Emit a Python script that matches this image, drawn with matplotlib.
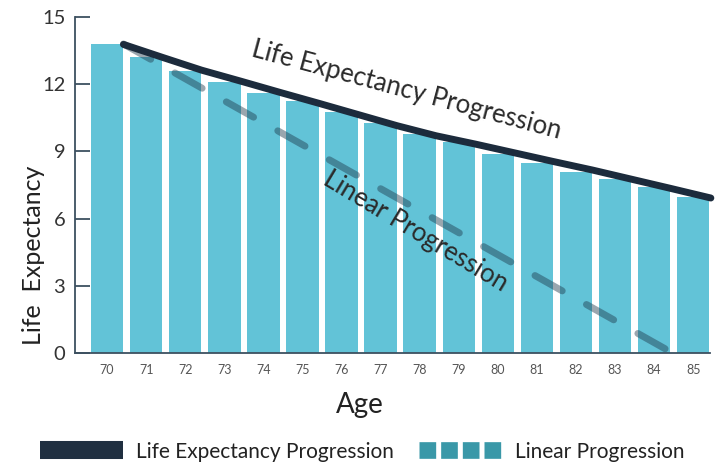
import matplotlib.pyplot as plt
from matplotlib.lines import Line2D

plt.rcParams['font.family'] = ['Lato', 'DejaVu Sans']

# data
ages = [70, 71, 72, 73, 74, 75, 76, 77, 78, 79, 80, 81, 82, 83, 84, 85]
life_exp = [13.8, 13.2, 12.6, 12.1, 11.6, 11.25, 10.75, 10.25, 9.8, 9.4,
            8.9, 8.5, 8.1, 7.75, 7.4, 6.95]
# smooth progression line, drawn at the right edge of each bar
prog_x = [70.42, 71.42, 72.42, 73.42, 74.42, 75.42, 76.42, 77.42, 78.42,
          79.42, 80.42, 81.42, 82.42, 83.42, 84.42, 85.45]
prog_y = [13.78, 13.2, 12.63, 12.14, 11.64, 11.15, 10.65, 10.15, 9.7, 9.33,
          8.94, 8.55, 8.17, 7.76, 7.35, 6.92]
# straight line from first value down to zero
lin_x = [70.42, 84.47]
lin_y = [13.8, 0]

bar_col = '#62c3d7'
navy = '#1c2b3c'
dash_col = '#1f3a4d'

fig = plt.figure(figsize=(7.17, 4.62), dpi=100)
ax = fig.add_axes([0.1046, 0.236, 0.895, 0.727])

ax.bar(ages, life_exp, width=0.83, color=bar_col, zorder=1)
ax.plot(prog_x, prog_y, color=navy, lw=5, solid_capstyle='round',
        solid_joinstyle='round', zorder=3)
ax.plot(lin_x, lin_y, color=dash_col, lw=5, alpha=0.45,
        dash_capstyle='round', dashes=(4.5, 4.0), zorder=2)

ax.text(77.66, 11.74, 'Life Expectancy Progression', rotation=-15,
        rotation_mode='anchor', ha='center', va='center', fontsize=18.5,
        color='#2a2a2a')
ax.text(77.89, 5.45, 'Linear Progression', rotation=-31,
        rotation_mode='anchor', ha='center', va='center', fontsize=18.5,
        color='#2a2a2a')

ax.set_xlim(69.18, 85.6)
ax.set_ylim(0, 15)
ax.set_yticks([0, 3, 6, 9, 12, 15])
ax.set_xticks(ages)
ax.tick_params(axis='y', direction='in', length=11, width=1.3,
               color='#3d5060', labelsize=14.5, labelcolor='#333333', pad=7)
ax.tick_params(axis='x', length=0, labelsize=9, labelcolor='#555555', pad=8)

for s in ['top', 'right']:
    ax.spines[s].set_visible(False)
ax.spines['left'].set_color('#3d5060')
ax.spines['left'].set_linewidth(1.3)
ax.spines['bottom'].set_color('#3d5060')
ax.spines['bottom'].set_linewidth(1.3)
ax.spines['bottom'].set_bounds(69.18, 85.42)

ax.set_ylabel('Life  Expectancy', fontsize=18, color='#222222')
ax.yaxis.set_label_coords(-0.047, 0.29)
ax.set_xlabel('Age', fontsize=20, color='#222222')
ax.xaxis.set_label_coords(0.444, -0.115)

handles = [
    Line2D([0], [0], color='#1f2f40', lw=13, solid_capstyle='butt'),
    Line2D([0], [0], color='#3a98a8', lw=12, dashes=(1, 0.3),
           dash_capstyle='butt'),
]
fig.legend(handles, ['Life Expectancy Progression', 'Linear Progression'],
           loc='lower center', bbox_to_anchor=(0.505, -0.04), ncol=2,
           frameon=False, fontsize=15, handlelength=4.0, columnspacing=1.2,
           handletextpad=0.6, labelcolor='#222222')

plt.savefig('out.png', dpi=100)
